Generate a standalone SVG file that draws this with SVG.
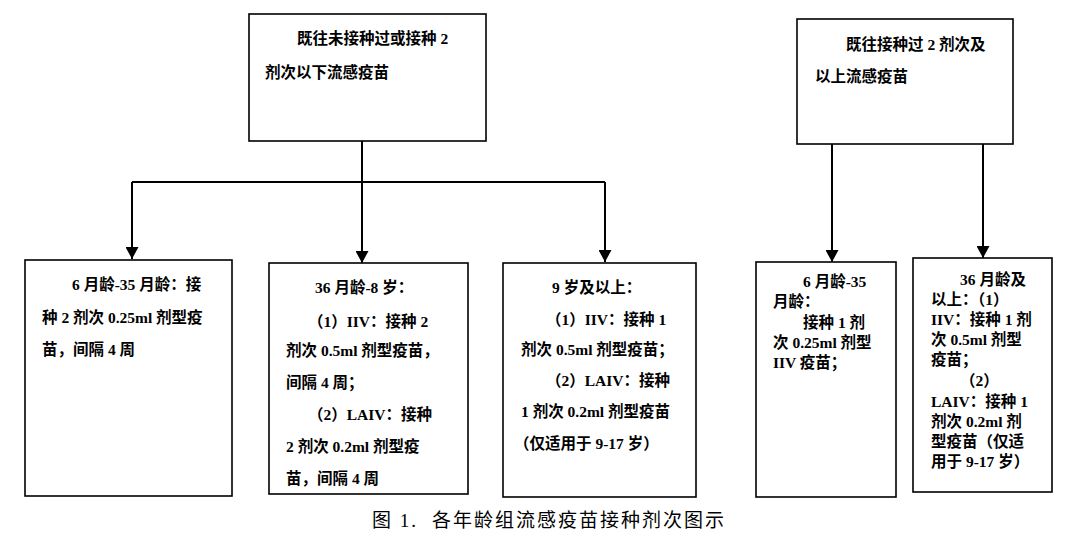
<svg xmlns="http://www.w3.org/2000/svg" width="1080" height="545" viewBox="0 0 1080 545">
<style>
.box{fill:#fff;stroke:#000;stroke-width:1.6}
.t{font-family:"Liberation Serif","Noto Sans CJK SC",serif;font-size:15.5px;font-weight:bold;fill:#000}
.ln{fill:none;stroke:#000;stroke-width:2}
.cap{font-family:"Liberation Serif","Noto Sans CJK SC",serif;font-size:19px;letter-spacing:2px;fill:#000}
</style>
<defs>
<marker id="ah" markerUnits="userSpaceOnUse" markerWidth="13" markerHeight="13" refX="12" refY="6.5" orient="auto">
<path d="M0,0 L12,6.5 L0,13 z" fill="#000"/>
</marker>
</defs>
<rect width="1080" height="545" fill="#fff"/>

<g id="connectors">
<path class="ln" d="M362,141 V182"/>
<path class="ln" d="M132,182 H605"/>
<path class="ln" d="M132,182 V259" marker-end="url(#ah)"/>
<path class="ln" d="M362,182 V263" marker-end="url(#ah)"/>
<path class="ln" d="M605,182 V262" marker-end="url(#ah)"/>
<path class="ln" d="M832,144 V262" marker-end="url(#ah)"/>
<path class="ln" d="M983,144 V258" marker-end="url(#ah)"/>
</g>

<g id="n-top-left">
<rect class="box" x="249" y="14" width="237" height="127"/>
<text class="t" x="297" y="44">既往未接种过或接种 2</text>
<text class="t" x="265" y="78">剂次以下流感疫苗</text>
</g>

<g id="n-top-right">
<rect class="box" x="797" y="19" width="216" height="125"/>
<text class="t" x="846" y="50">既往接种过 2 剂次及</text>
<text class="t" x="815" y="82">以上流感疫苗</text>
</g>

<g id="n-b1">
<rect class="box" x="25" y="260" width="207" height="236"/>
<text class="t" x="72" y="290">6 月龄-35 月龄：接</text>
<text class="t" x="42" y="323">种 2 剂次 0.25ml 剂型疫</text>
<text class="t" x="42" y="355">苗，间隔 4 周</text>
</g>

<g id="n-b2">
<rect class="box" x="269" y="263" width="199" height="231"/>
<text class="t" x="315" y="293">36 月龄-8 岁：</text>
<text class="t" x="308" y="327">（1）IIV：接种 2</text>
<text class="t" x="286" y="356">剂次 0.5ml 剂型疫苗，</text>
<text class="t" x="286" y="388">间隔 4 周；</text>
<text class="t" x="308" y="420">（2）LAIV：接种</text>
<text class="t" x="286" y="452">2 剂次 0.2ml 剂型疫</text>
<text class="t" x="286" y="484">苗，间隔 4 周</text>
</g>

<g id="n-b3">
<rect class="box" x="503" y="263" width="193" height="234"/>
<text class="t" x="552" y="293">9 岁及以上：</text>
<text class="t" x="546" y="325">（1）IIV：接种 1</text>
<text class="t" x="521" y="355">剂次 0.5ml 剂型疫苗；</text>
<text class="t" x="546" y="386">（2）LAIV：接种</text>
<text class="t" x="521" y="417">1 剂次 0.2ml 剂型疫苗</text>
<text class="t" x="514" y="449">（仅适用于 9-17 岁）</text>
</g>

<g id="n-b4">
<rect class="box" x="756" y="262" width="140" height="235"/>
<text class="t" x="803" y="287">6 月龄-35</text>
<text class="t" x="773" y="307">月龄：</text>
<text class="t" x="803" y="328">接种 1 剂</text>
<text class="t" x="773" y="348">次 0.25ml 剂型</text>
<text class="t" x="773" y="368">IIV 疫苗；</text>
</g>

<g id="n-b5">
<rect class="box" x="913" y="258" width="139" height="234"/>
<text class="t" x="960" y="285">36 月龄及</text>
<text class="t" x="931" y="305">以上：（1）</text>
<text class="t" x="931" y="325">IIV：接种 1 剂</text>
<text class="t" x="931" y="345">次 0.5ml 剂型</text>
<text class="t" x="931" y="365">疫苗；</text>
<text class="t" x="960" y="386">（2）</text>
<text class="t" x="931" y="407">LAIV：接种 1</text>
<text class="t" x="931" y="427">剂次 0.2ml 剂</text>
<text class="t" x="931" y="447">型疫苗（仅适</text>
<text class="t" x="931" y="467">用于 9-17 岁）</text>
</g>

<g id="caption">
<text class="cap" y="527"><tspan x="372">图 1.</tspan><tspan x="432">各年龄组流感疫苗接种剂次图示</tspan></text>
</g>
</svg>
